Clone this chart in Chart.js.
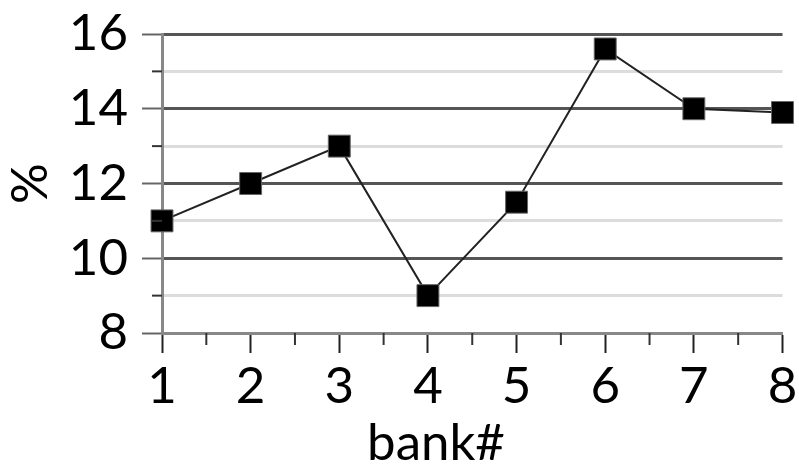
<!DOCTYPE html>
<html>
<head>
<meta charset="utf-8">
<script src="https://cdn.jsdelivr.net/npm/chart.js@4/dist/chart.umd.min.js"></script>
<style>
html,body{margin:0;padding:0;background:#fff;}
#wrap{width:799px;height:469px;position:relative;}
</style>
</head>
<body>
<div id="wrap"><canvas id="c" width="799" height="469"></canvas></div>
<script>
const banks = [1, 2, 3, 4, 5, 6, 7, 8];
const values = [11, 12, 13, 9, 11.5, 15.6, 14, 13.9];
const yMajorTicks = [8, 10, 12, 14, 16];
const xTitle = 'bank#';
const yTitle = '%';

const FONT = 'Lato, "Liberation Sans", sans-serif';
const FS = 51;

const minorTicks = {
  id: 'minorTicks',
  afterDraw(chart) {
    const ctx = chart.ctx;
    const xs = chart.scales.x, ys = chart.scales.y;
    ctx.save();
    ctx.strokeStyle = '#333';
    ctx.lineWidth = 2;
    ys.ticks.forEach(t => {
      if (!yMajorTicks.includes(t.value)) {
        const y = ys.getPixelForValue(t.value);
        ctx.beginPath(); ctx.moveTo(ys.right - 10, y); ctx.lineTo(ys.right, y); ctx.stroke();
      }
    });
    xs.ticks.forEach(t => {
      if (!banks.includes(t.value)) {
        const x = xs.getPixelForValue(t.value);
        ctx.beginPath(); ctx.moveTo(x, xs.top); ctx.lineTo(x, xs.top + 12); ctx.stroke();
      }
    });
    ctx.fillStyle = '#000';
    ctx.font = FS + 'px ' + FONT;
    ctx.textAlign = 'center';
    ctx.textBaseline = 'alphabetic';
    ctx.fillText(xTitle, chart.chartArea.left + 274, chart.chartArea.bottom + 127);
    ctx.restore();
  }
};

new Chart(document.getElementById('c'), {
  type: 'line',
  data: {
    datasets: [{
      data: banks.map((b, i) => ({x: b, y: values[i]})),
      borderColor: '#222',
      borderWidth: 2,
      pointStyle: 'rect',
      pointRadius: 15.5,
      pointHoverRadius: 15.5,
      pointBackgroundColor: '#000',
      pointBorderColor: '#666',
      pointBorderWidth: 1,
      clip: false,
      tension: 0
    }]
  },
  options: {
    responsive: false,
    animation: false,
    events: [],
    layout: {padding: {top: 34, right: 16, left: 0, bottom: 0}},
    plugins: {legend: {display: false}, tooltip: {enabled: false}},
    scales: {
      x: {
        type: 'linear',
        min: 1, max: 8,
        afterFit(s) { s.height = 136; s.paddingLeft = 0; s.paddingRight = 0; },
        afterBuildTicks(s) {
          const t = [];
          for (let v = s.min; v <= s.max + 1e-9; v += 0.5) t.push({value: v});
          s.ticks = t;
        },
        ticks: {
          autoSkip: false, maxRotation: 0, padding: 3,
          color: '#000',
          font: {family: FONT, size: FS},
          callback: v => banks.includes(v) ? String(v) : ''
        },
        grid: {
          drawOnChartArea: false,
          tickLength: 20,
          tickWidth: 2,
          tickColor: c => (c.tick && banks.includes(c.tick.value)) ? '#222' : 'rgba(0,0,0,0)'
        },
        border: {display: true, color: '#888', width: 3}
      },
      y: {
        min: 8, max: 16,
        afterFit(s) { s.width = 162; s.paddingTop = 0; s.paddingBottom = 0; },
        ticks: {
          stepSize: 1, padding: 14, autoSkip: false,
          color: '#000',
          font: {family: FONT, size: FS},
          callback: v => yMajorTicks.includes(v) ? String(v) : ''
        },
        grid: {
          tickLength: 20,
          tickWidth: 2,
          lineWidth: 3,
          color: c => (c.tick && yMajorTicks.includes(c.tick.value)) ? '#555' : '#dcdcdc',
          tickColor: c => (c.tick && yMajorTicks.includes(c.tick.value)) ? '#666' : 'rgba(0,0,0,0)'
        },
        border: {display: true, color: '#888', width: 3},
        title: {
          display: true, text: yTitle, color: '#000',
          font: {family: FONT, size: FS}, padding: {top: 0, bottom: 0}
        }
      }
    }
  },
  plugins: [minorTicks]
});
</script>
</body>
</html>
